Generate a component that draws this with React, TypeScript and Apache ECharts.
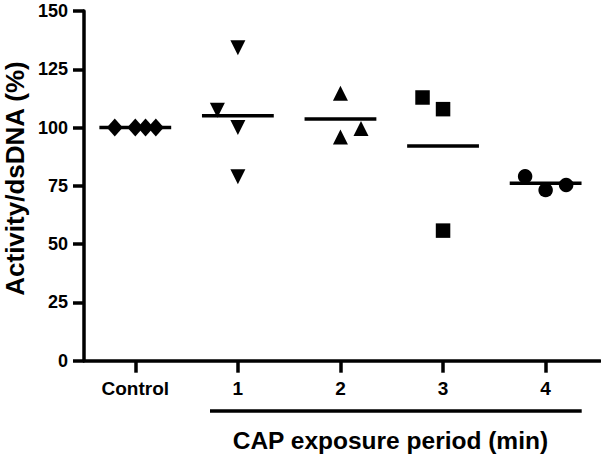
import React, { useEffect, useRef } from "react";
import * as echarts from "echarts";

// ---- data ----
const categories = ["Control", "1", "2", "3", "4"];
const yTicks = [0, 25, 50, 75, 100, 125, 150];

const controlValues = [100, 100, 100, 100];
const controlJitter = [-0.2, 0, 0.1, 0.2];

const cap1Values = [134.2, 107.4, 100.0, 78.9];
const cap1Jitter = [0, -0.2, 0, 0];

const cap2Values = [114.7, 96.0, 99.6];
const cap2Jitter = [0, 0, 0.2];

const cap3Values = [112.9, 107.9, 55.8];
const cap3Jitter = [-0.2, 0, 0];

const cap4Values = [79.1, 73.2, 75.4];
const cap4Jitter = [-0.2, 0, 0.2];

const groupMeans = [100, 105.1, 103.7, 92.1, 76.1];

const yTitle = "Activity/dsDNA (%)";
const xTitle = "CAP exposure period (min)";

const FONT = "'Liberation Sans', Arial, Helvetica, sans-serif";

function pts(index: number, values: number[], jitter: number[]) {
  return values.map((v, k) => [index + jitter[k], v]);
}

export default function App() {
  const ref = useRef<HTMLDivElement>(null);
  useEffect(() => {
    if (!ref.current) return;
    const chart = echarts.init(ref.current, null, { renderer: "svg" });
    const markerStyle = { color: "#000", opacity: 1 };
    const groups = [
      { data: pts(0, controlValues, controlJitter), symbol: "diamond", size: [16, 18], rotate: 0 },
      { data: pts(1, cap1Values, cap1Jitter), symbol: "triangle", size: 15, rotate: 180 },
      { data: pts(2, cap2Values, cap2Jitter), symbol: "triangle", size: 15, rotate: 0 },
      { data: pts(3, cap3Values, cap3Jitter), symbol: "rect", size: 14.5, rotate: 0 },
      { data: pts(4, cap4Values, cap4Jitter), symbol: "circle", size: 14.5, rotate: 0 },
    ];
    const option: any = {
      animation: false,
      backgroundColor: "#fff",
      grid: { left: 84, right: 1, top: 11, bottom: 93.3, containLabel: false },
      xAxis: {
        type: "value",
        min: -0.5,
        max: 4.53,
        splitLine: { show: false },
        axisLine: { show: true, onZero: false, lineStyle: { color: "#000", width: 3.5 } },
        axisTick: {
          show: true,
          customValues: [0, 1, 2, 3, 4],
          length: 12,
          lineStyle: { color: "#000", width: 3.5 },
        },
        axisLabel: {
          customValues: [0, 1, 2, 3, 4],
          formatter: (v: number) => categories[Math.round(v)],
          margin: 18,
          color: "#000",
          fontSize: 19,
          fontWeight: "bold",
          fontFamily: FONT,
        },
      },
      yAxis: {
        type: "value",
        min: 0,
        max: 150,
        interval: 25,
        splitLine: { show: false },
        axisLine: { show: true, onZero: false, lineStyle: { color: "#000", width: 3.5 } },
        axisTick: { show: true, length: 11, lineStyle: { color: "#000", width: 3.5 } },
        axisLabel: {
          margin: 16,
          color: "#000",
          fontSize: 18,
          fontWeight: "bold",
          fontFamily: FONT,
          formatter: (v: number) => (yTicks.includes(v) ? String(v) : ""),
        },
      },
      series: [
        ...groups.map((g) => ({
          type: "scatter",
          data: g.data,
          symbol: g.symbol,
          symbolSize: g.size,
          symbolRotate: g.rotate,
          itemStyle: markerStyle,
          z: 3,
        })),
        {
          type: "custom",
          data: groupMeans.map((m, i) => [i, m]),
          z: 4,
          renderItem: (params: any, api: any) => {
            const i = api.value(0);
            const m = api.value(1);
            const p1 = api.coord([i - 0.35, m]);
            const p2 = api.coord([i + 0.35, m]);
            return {
              type: "line",
              shape: { x1: p1[0], y1: p1[1], x2: p2[0], y2: p2[1] },
              style: { stroke: "#000", lineWidth: 3.5 },
            };
          },
        },
      ],
      graphic: [
        {
          type: "line",
          shape: { x1: 210, y1: 411, x2: 581.7, y2: 411 },
          style: { stroke: "#000", lineWidth: 3.5 },
        },
        {
          type: "text",
          x: 390.4,
          y: 440,
          style: {
            text: xTitle,
            fill: "#000",
            font: `bold 24.5px ${FONT}`,
            align: "center",
            verticalAlign: "middle",
          },
        },
        {
          type: "text",
          x: 14.5,
          y: 178.5,
          rotation: Math.PI / 2,
          style: {
            text: yTitle,
            fill: "#000",
            font: `bold 26px ${FONT}`,
            align: "center",
            verticalAlign: "middle",
          },
        },
      ],
    };
    chart.setOption(option);
    return () => chart.dispose();
  }, []);
  return (
    <div
      ref={ref}
      style={{ position: "fixed", left: 0, top: 0, width: 601, height: 454, background: "#fff" }}
    />
  );
}
